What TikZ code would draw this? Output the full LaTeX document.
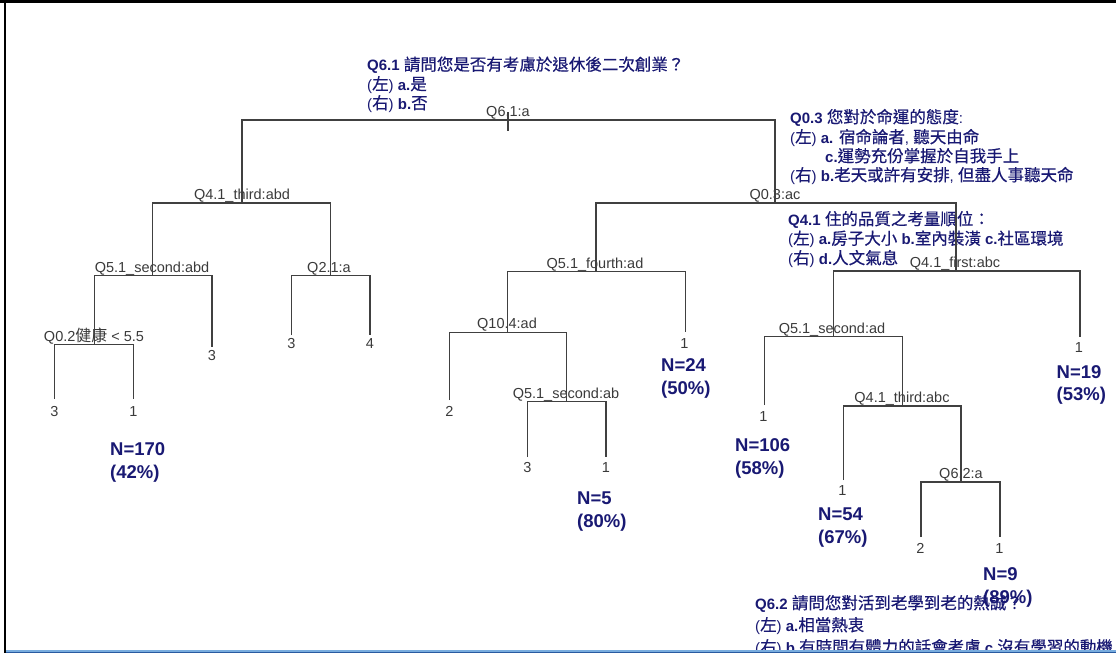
\documentclass[tikz,border=0pt]{standalone}
\usepackage{fontspec}
\setmainfont{Liberation Sans}
\newfontfamily\zhfont[Scale=1.1,FakeBold=0.5]{Noto Sans CJK TC}
\newfontfamily\zhlfont[Scale=1.1]{Noto Sans CJK TC}
\newcommand\zh[1]{{\zhfont #1}}
\newcommand\zhl[1]{{\zhlfont #1}}
\definecolor{treegray}{HTML}{404040}
\definecolor{lblgray}{HTML}{3A3A3A}
\definecolor{navyb}{RGB}{25,25,115}
\definecolor{framelight}{RGB}{120,172,222}
\definecolor{framedark}{RGB}{40,90,160}
\tikzset{
  br/.style={draw=treegray, line width=1.4pt},
  lbl/.style={anchor=base, inner sep=0pt, text=lblgray, font=\fontsize{14.5}{16}\selectfont},
  ncount/.style={anchor=base west, inner sep=0pt, text=navyb, font=\bfseries\fontsize{18.5}{20}\selectfont},
  note/.style={anchor=base west, inner sep=0pt, text=navyb, font=\fontsize{15}{18}\selectfont},
}
\begin{document}
\begin{tikzpicture}[x=1pt,y=-1pt]
\useasboundingbox (0,0) rectangle (1116,656);
\begin{scope}
\clip (0,0) rectangle (1116,650);
% ---- split points (stem x, bar y) and leaf ends
\coordinate (r0) at (508,120);
\coordinate (r0top) at (508,112);
\coordinate (r0bot) at (508,131);
\coordinate (a) at (242,203);
\coordinate (b) at (152.7,275.7);
\coordinate (c) at (94.3,344.3);
\coordinate (c1) at (54.3,398.5);
\coordinate (c2) at (133.3,398.5);
\coordinate (b2) at (212,346.7);
\coordinate (d) at (330.7,275.7);
\coordinate (d1) at (291.3,335);
\coordinate (d2) at (370,335);
\coordinate (e) at (775,203);
\coordinate (f) at (596,271.7);
\coordinate (g) at (507.3,332.3);
\coordinate (g1) at (449.3,400);
\coordinate (h) at (566.7,401.7);
\coordinate (h1) at (527.3,457);
\coordinate (h2) at (606,457);
\coordinate (f2) at (685.7,331.7);
\coordinate (i) at (956,271);
\coordinate (i2) at (1080,337.3);
\coordinate (j) at (833.3,336.7);
\coordinate (j1) at (764.3,405);
\coordinate (k) at (902.7,406);
\coordinate (k1) at (843.3,480);
\coordinate (l) at (961,482);
\coordinate (l1) at (921,537);
\coordinate (l2) at (1000,537);

% ---- split labels
\node[lbl] (r0t) at (508,116.5) {Q6.1:a};
\node[lbl] (at) at (242,199.5) {Q4.1\_third:abd};
\node[lbl] (bt) at (152,272) {Q5.1\_second:abd};
\node[lbl] (ct) at (94,341) {Q0.2\zhl{健康} < 5.5};
\node[lbl] (dt) at (329,272) {Q2.1:a};
\node[lbl] (et) at (775,199.5) {Q0.3:ac};
\node[lbl] (ft) at (595,268.2) {Q5.1\_fourth:ad};
\node[lbl] (gt) at (507,328.8) {Q10.4:ad};
\node[lbl] (ht) at (566,398) {Q5.1\_second:ab};
\node[lbl] (it) at (955,267.5) {Q4.1\_first:abc};
\node[lbl] (jt) at (832,333.2) {Q5.1\_second:ad};
\node[lbl] (kt) at (902,402.5) {Q4.1\_third:abc};
\node[lbl] (lt) at (961,478.5) {Q6.2:a};

% ---- leaf labels
\node[lbl] (c1t) at (54.3,416) {3};
\node[lbl] (c2t) at (133.3,416) {1};
\node[lbl] (b2t) at (212,360) {3};
\node[lbl] (d1t) at (291.3,348) {3};
\node[lbl] (d2t) at (370,348) {4};
\node[lbl] (g1t) at (449.3,416.7) {2};
\node[lbl] (h1t) at (527.3,472) {3};
\node[lbl] (h2t) at (606,472) {1};
\node[lbl] (f2t) at (684.5,348) {1};
\node[lbl] (i2t) at (1079,352) {1};
\node[lbl] (j1t) at (763.5,421.7) {1};
\node[lbl] (k1t) at (842.5,495) {1};
\node[lbl] (l1t) at (920.5,553) {2};
\node[lbl] (l2t) at (999.5,553) {1};

% ---- counts
\node[ncount] (n170) at (110,455) {N=170};
\node[ncount] (p170) at (110,478) {(42\%)};
\node[ncount] (n24) at (661,371.7) {N=24};
\node[ncount] (p24) at (661,394) {(50\%)};
\node[ncount] (n5) at (577,504) {N=5};
\node[ncount] (p5) at (577,527) {(80\%)};
\node[ncount] (n106) at (735,451.7) {N=106};
\node[ncount] (p106) at (735,474) {(58\%)};
\node[ncount] (n19) at (1056.5,378) {N=19};
\node[ncount] (p19) at (1056.5,400.5) {(53\%)};
\node[ncount] (n54) at (818,520) {N=54};
\node[ncount] (p54) at (818,543) {(67\%)};
\node[ncount] (n9) at (983,580) {N=9};
\node[ncount] (p9) at (983,603) {(89\%)};

% ---- notes
\node[note] (q61a) at (367,70.5) {\textbf{Q6.1} \zh{請問您是否有考慮於退休後二次創業？}};
\node[note] (q61b) at (367,90) {(\zh{左}) \textbf{a.}\zh{是}};
\node[note] (q61c) at (367,109) {(\zh{右}) \textbf{b.}\zh{否}};

\node[note] (q03a) at (790,123) {\textbf{Q0.3} \zh{您對於命運的態度}:};
\node[note] (q03b) at (790,143) {(\zh{左}) \textbf{a.} \zh{宿命論者}, \zh{聽天由命}};
\node[note] (q03c) at (825,162) {\textbf{c.}\zh{運勢充份掌握於自我手上}};
\node[note] (q03d) at (790,181) {(\zh{右}) \textbf{b.}\zh{老天或許有安排}, \zh{但盡人事聽天命}};

\node[note] (q41a) at (788,225) {\textbf{Q4.1} \zh{住的品質之考量順位：}};
\node[note] (q41b) at (788,244.5) {(\zh{左}) \textbf{a.}\zh{房子大小} \textbf{b.}\zh{室內裝潢} \textbf{c.}\zh{社區環境}};
\node[note] (q41c) at (788,264) {(\zh{右}) \textbf{d.}\zh{人文氣息}};

\node[note] (q62a) at (755,609) {\textbf{Q6.2} \zh{請問您對活到老學到老的熱誠？}};
\node[note] (q62b) at (755,631) {(\zh{左}) \textbf{a.}\zh{相當熱衷}};
\node[note] (q62c) at (755,653) {(\zh{右}) \textbf{b.}\zh{有時間有體力的話會考慮} \textbf{c.}\zh{沒有學習的動機}};

% ---- branches
\draw[br] (r0top) -- (r0bot);
\draw[br] (a) -- (a |- r0) -- (e |- r0) -- (e);
\draw[br] (b) -- (b |- a) -- (d |- a) -- (d);
\draw[br] (c) -- (c |- b) -- (b2 |- b) -- (b2);
\draw[br] (c1) -- (c1 |- c) -- (c2 |- c) -- (c2);
\draw[br] (d1) -- (d1 |- d) -- (d2 |- d) -- (d2);
\draw[br] (f) -- (f |- e) -- (i |- e) -- (i);
\draw[br] (g) -- (g |- f) -- (f2 |- f) -- (f2);
\draw[br] (g1) -- (g1 |- g) -- (h |- g) -- (h);
\draw[br] (h1) -- (h1 |- h) -- (h2 |- h) -- (h2);
\draw[br] (j) -- (j |- i) -- (i2 |- i) -- (i2);
\draw[br] (j1) -- (j1 |- j) -- (k |- j) -- (k);
\draw[br] (k1) -- (k1 |- k) -- (l |- k) -- (l);
\draw[br] (l1) -- (l1 |- l) -- (l2 |- l) -- (l2);
\end{scope}

% ---- window frame
\draw[black, line width=3pt] (0,1.5) -- (1116,1.5);
\draw[black, line width=2.4pt] (5,0) -- (5,653);
\draw[framelight, line width=1.8pt] (6,650.9) -- (1116,650.9);
\draw[framedark, line width=1.6pt] (6,652.6) -- (1116,652.6);
\end{tikzpicture}
\end{document}
